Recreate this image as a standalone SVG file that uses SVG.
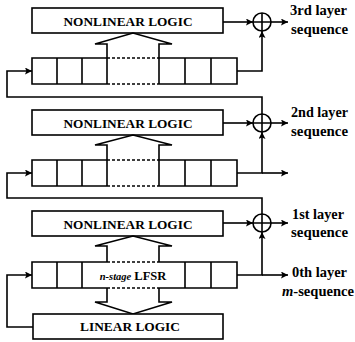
<svg xmlns="http://www.w3.org/2000/svg" width="355" height="342" viewBox="0 0 355 342">
<style>
.box{fill:#fff;stroke:#000;stroke-width:1.6}
.ln{fill:none;stroke:#000;stroke-width:1.6}
.dash{fill:none;stroke:#000;stroke-width:1.4;stroke-dasharray:3 2}
.wa{fill:#fff;stroke:#000;stroke-width:1.6;stroke-linejoin:miter}
text{font-family:'Liberation Serif','Times New Roman',serif;font-weight:bold;fill:#000}
.nl{font-size:13.3px}
.lab{font-size:14px}
</style>
<defs>
<marker id="ah" viewBox="0 0 10 10" refX="10" refY="5" markerWidth="10" markerHeight="7" markerUnits="userSpaceOnUse" orient="auto">
<path d="M0,0 L10,5 L0,10 L2,5 z" fill="#000"/>
</marker>
</defs>
<g id="nl3rd">
<rect class="box" x="32" y="8" width="191" height="25"/>
<text class="nl" x="128" y="26" text-anchor="middle" textLength="129" lengthAdjust="spacingAndGlyphs">NONLINEAR LOGIC</text>
</g>
<g id="reg3">
<path class="wa" d="M107,58 V44 H95 L133,33 L172,44 H159 V58"/>
<path class="ln" d="M107,58 H32 V84 H107 M57,58 V84 M82,58 V84 M107,58 V84 M159,58 H237 V84 H159 M159,58 V84 M185,58 V84 M211,58 V84"/>
<path class="dash" d="M107,58 H159 M107,84 H159"/>
</g>
<g id="xor3">
<circle class="ln" cx="262" cy="22" r="9"/>
<path class="ln" d="M253,22 H271 M262,13 V31"/>
</g>
<g id="label3">
<text class="lab" x="290" y="15" textLength="57" lengthAdjust="spacingAndGlyphs">3rd layer</text>
<text class="lab" x="291" y="34" textLength="57" lengthAdjust="spacingAndGlyphs">sequence</text>
</g>
<g id="nl2nd">
<rect class="box" x="32" y="110" width="191" height="25"/>
<text class="nl" x="128" y="128" text-anchor="middle" textLength="129" lengthAdjust="spacingAndGlyphs">NONLINEAR LOGIC</text>
</g>
<g id="reg2">
<path class="wa" d="M107,160 V145 H95 L133,135 L172,145 H159 V160"/>
<path class="ln" d="M107,160 H32 V186 H107 M57,160 V186 M82,160 V186 M107,160 V186 M159,160 H237 V186 H159 M159,160 V186 M185,160 V186 M211,160 V186"/>
<path class="dash" d="M107,160 H159 M107,186 H159"/>
</g>
<g id="xor2">
<circle class="ln" cx="262" cy="123" r="9"/>
<path class="ln" d="M253,123 H271 M262,114 V132"/>
</g>
<g id="label2">
<text class="lab" x="291" y="117" textLength="57" lengthAdjust="spacingAndGlyphs">2nd layer</text>
<text class="lab" x="291" y="136" textLength="57" lengthAdjust="spacingAndGlyphs">sequence</text>
</g>
<g id="nl1st">
<rect class="box" x="32" y="211" width="191" height="25"/>
<text class="nl" x="128" y="229" text-anchor="middle" textLength="129" lengthAdjust="spacingAndGlyphs">NONLINEAR LOGIC</text>
</g>
<g id="lfsr">
<path class="wa" d="M107,262 V246 H95 L133,236 L172,246 H159 V262"/>
<path class="wa" d="M107,288 V302 H95 L133,314 L172,302 H159 V288"/>
<path class="ln" d="M107,262 H32 V288 H107 M57,262 V288 M82,262 V288 M159,262 H237 V288 H159 M185,262 V288 M211,262 V288"/>
<path class="dash" d="M107,262 H159 M107,288 H159"/>
<text x="133" y="280" text-anchor="middle"><tspan font-style="italic" font-size="10.5px">n-stage</tspan><tspan font-size="12.5px"> LFSR</tspan></text>
</g>
<g id="xor1">
<circle class="ln" cx="262" cy="223" r="9"/>
<path class="ln" d="M253,223 H271 M262,214 V232"/>
</g>
<g id="label1">
<text class="lab" x="292" y="219" textLength="52" lengthAdjust="spacingAndGlyphs">1st layer</text>
<text class="lab" x="291" y="237" textLength="57" lengthAdjust="spacingAndGlyphs">sequence</text>
</g>
<g id="label0">
<text class="lab" x="292" y="277" textLength="55" lengthAdjust="spacingAndGlyphs">0th layer</text>
<text class="lab" x="282" y="296" textLength="72" lengthAdjust="spacingAndGlyphs"><tspan font-style="italic">m</tspan>-sequence</text>
</g>
<g id="linear">
<rect class="box" x="33" y="314" width="190" height="25"/>
<text class="nl" x="130" y="331" text-anchor="middle" textLength="100" lengthAdjust="spacingAndGlyphs">LINEAR LOGIC</text>
</g>
<g id="connectors">
<path class="ln" d="M223,22 H253" marker-end="url(#ah)"/>
<path class="ln" d="M271,22 H288" marker-end="url(#ah)"/>
<path class="ln" d="M237,71 H262 V31" marker-end="url(#ah)"/>
<path class="ln" d="M262,114 V97 H7 V71 H32" marker-end="url(#ah)"/>
<path class="ln" d="M223,123 H253" marker-end="url(#ah)"/>
<path class="ln" d="M271,123 H288" marker-end="url(#ah)"/>
<path class="ln" d="M237,173 H262 V132" marker-end="url(#ah)"/>
<path class="ln" d="M262,173 H288" marker-end="url(#ah)"/>
<path class="ln" d="M262,214 V198 H7 V173 H32" marker-end="url(#ah)"/>
<path class="ln" d="M223,223 H253" marker-end="url(#ah)"/>
<path class="ln" d="M271,223 H288" marker-end="url(#ah)"/>
<path class="ln" d="M237,275 H262 V232" marker-end="url(#ah)"/>
<path class="ln" d="M262,275 H288" marker-end="url(#ah)"/>
<path class="ln" d="M33,327 H7 V275 H32" marker-end="url(#ah)"/>
</g>
</svg>
